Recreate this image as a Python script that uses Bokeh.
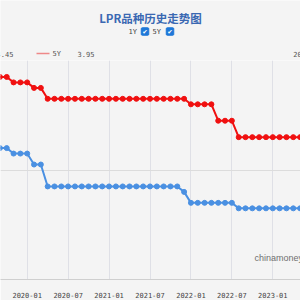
from bokeh.plotting import figure
from bokeh.layouts import column
from bokeh.models import Range1d, FixedTicker, Label
from bokeh.core.properties import value
from bokeh.embed import file_html
from bokeh.resources import INLINE

# ---- data (monthly LPR fixings) ----
months = [
    "2019-08", "2019-09", "2019-10", "2019-11", "2019-12",
    "2020-01", "2020-02", "2020-03", "2020-04", "2020-05", "2020-06",
    "2020-07", "2020-08", "2020-09", "2020-10", "2020-11", "2020-12",
    "2021-01", "2021-02", "2021-03", "2021-04", "2021-05", "2021-06",
    "2021-07", "2021-08", "2021-09", "2021-10", "2021-11", "2021-12",
    "2022-01", "2022-02", "2022-03", "2022-04", "2022-05", "2022-06",
    "2022-07", "2022-08", "2022-09", "2022-10", "2022-11", "2022-12",
    "2023-01", "2023-02", "2023-03", "2023-04", "2023-05",
]
rate_1y = [
    4.25, 4.20, 4.20, 4.15, 4.15,
    4.15, 4.05, 4.05, 3.85, 3.85, 3.85,
    3.85, 3.85, 3.85, 3.85, 3.85, 3.85,
    3.85, 3.85, 3.85, 3.85, 3.85, 3.85,
    3.85, 3.85, 3.85, 3.85, 3.85, 3.80,
    3.70, 3.70, 3.70, 3.70, 3.70, 3.70,
    3.70, 3.65, 3.65, 3.65, 3.65, 3.65,
    3.65, 3.65, 3.65, 3.65, 3.65,
]
rate_5y = [
    4.85, 4.85, 4.85, 4.80, 4.80,
    4.80, 4.75, 4.75, 4.65, 4.65, 4.65,
    4.65, 4.65, 4.65, 4.65, 4.65, 4.65,
    4.65, 4.65, 4.65, 4.65, 4.65, 4.65,
    4.65, 4.65, 4.65, 4.65, 4.65, 4.65,
    4.60, 4.60, 4.60, 4.60, 4.45, 4.45,
    4.45, 4.30, 4.30, 4.30, 4.30, 4.30,
    4.30, 4.30, 4.30, 4.30, 4.30,
]
tick_months = ["2020-01", "2020-07", "2021-01", "2021-07", "2022-01", "2022-07", "2023-01"]
y_grid_values = [3.0, 4.0, 5.0]
title_text = "LPR品种历史走势图"
toggle_names = ["1Y", "5Y"]
legend_left_value = "4.45"
legend_5y_name = "5Y"
legend_5y_value = "3.95"
legend_right_fragment = "20"
watermark = "chinamoney"

BG = "#f4f4f4"
RED = "#f01010"
BLUE = "#4a90e2"
MONO = "DejaVu Sans Mono"

# ---- header (title, toggles, hover legend) ----
h = figure(width=300, height=60, output_backend="svg", toolbar_location=None,
           x_range=Range1d(0, 300), y_range=Range1d(60, 0),
           x_axis_location=None, y_axis_location=None,
           min_border=0, min_border_left=0, min_border_right=0,
           min_border_top=0, min_border_bottom=0)
h.background_fill_color = BG
h.border_fill_color = BG
h.outline_line_color = None
h.xgrid.visible = False
h.ygrid.visible = False

h.text(x=[150], y=[17.5], text=[title_text], text_align="center", text_baseline="middle",
       text_font=value("Noto Sans CJK SC"), text_font_size="11.5px",
       text_font_style="bold", text_color="#3a68b2")
h.text(x=[128, 152], y=[31, 31], text=toggle_names, text_align="left", text_baseline="middle",
       text_font=value(MONO), text_font_size="7px", text_color="#444444")
h.rect(x=[144.5, 169.5], y=[31, 31], width=7.5, height=7.5, fill_color="#1f78d8",
       line_color="#1f78d8", border_radius=1)
h.text(x=[144.5, 169.5], y=[31.3, 31.3], text=["✔", "✔"], text_align="center",
       text_baseline="middle", text_font=value("DejaVu Sans"), text_font_size="6.5px",
       text_color="white")

h.text(x=[-4, 52, 77, 292.7], y=[53] * 4,
       text=[legend_left_value, legend_5y_name, legend_5y_value, legend_right_fragment],
       text_align="left", text_baseline="middle", text_font=value(MONO),
       text_font_size="7px", text_color="#555555")
h.segment(x0=[36], y0=[53], x1=[49], y1=[53], line_color="#ee8888", line_width=1.5)
h.segment(x0=[0], y0=[60], x1=[300], y1=[60], line_color="#dcdcdc", line_width=1)

# ---- main chart ----
idx = list(range(len(months)))
tick_idx = [months.index(m) for m in tick_months]

p = figure(width=300, height=240, output_backend="svg", toolbar_location=None,
           x_range=Range1d(1.086, 45.06), y_range=Range1d(3.0, 5.0),
           y_axis_location=None,
           min_border_left=0, min_border_right=0,
           min_border_top=0, min_border_bottom=17)
p.background_fill_color = BG
p.border_fill_color = BG
p.outline_line_color = None

p.xaxis.ticker = FixedTicker(ticks=tick_idx)
p.xaxis.major_label_overrides = {i: m for i, m in zip(tick_idx, tick_months)}
p.xaxis.major_tick_line_color = None
p.xaxis.minor_tick_line_color = None
p.xaxis.axis_line_color = "#cfcfcf"
p.xaxis.major_label_text_font = MONO
p.xaxis.major_label_text_font_size = "7px"
p.xaxis.major_label_text_color = "#444444"
p.xaxis.major_label_standoff = 6

p.xgrid.ticker = FixedTicker(ticks=tick_idx)
p.xgrid.grid_line_color = "#dfe0e6"
for g in p.ygrid:
    g.ticker = FixedTicker(ticks=y_grid_values)
    g.grid_line_color = "#dcdcdc"

p.line(idx, rate_5y, line_color=RED, line_width=2)
p.scatter(idx, rate_5y, size=5, fill_color=RED, line_color=RED)
p.line(idx, rate_1y, line_color=BLUE, line_width=2)
p.scatter(idx, rate_1y, size=5, fill_color=BLUE, line_color=BLUE)

p.add_layout(Label(x=254, y=223 - 201.5, x_units="screen", y_units="screen",
                   text=watermark, text_align="left", text_baseline="middle",
                   text_font="Liberation Sans", text_font_size="9px",
                   text_color="#707070"))

layout = column(h, p, spacing=0)
open("out.html", "w").write(file_html(layout, INLINE))
